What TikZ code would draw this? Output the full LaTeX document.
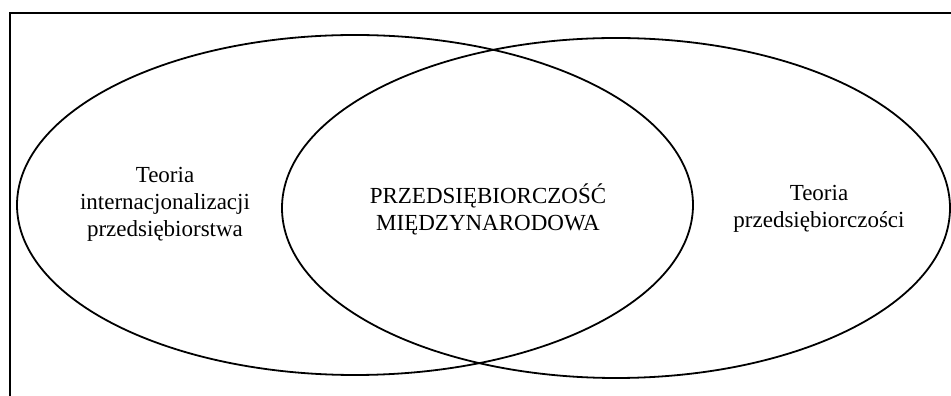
\documentclass[tikz,border=0pt]{standalone}
\usepackage{fontspec}
\setmainfont{Liberation Serif}
\usepackage{tikz}

\begin{document}
\begin{tikzpicture}[
  x=1pt, y=1pt,
  label text/.style={align=center, font=\fontsize{23}{27}\selectfont, inner sep=0pt}
]
% ---- Layout note ----
% Units are image pixels, origin at the lower left corner of the picture.
\useasboundingbox (0,0) rectangle (951,396);
\clip (0,0) rectangle (951,396);

% ---- Frame (only the top and left edges fall inside the picture) ----
\draw[line width=2.2pt] (10,-20) rectangle (980,383);

% ---- Two overlapping ellipses ----
\draw[line width=1.8pt] (355,191) ellipse [x radius=338, y radius=170];
\draw[line width=1.8pt] (616,188) ellipse [x radius=334, y radius=170];

% ---- Labels ----
\node[label text] (leftTheory) at (165,192) {Teoria\\internacjonalizacji\\przedsiębiorstwa};
\node[label text] (common) at (488,187) {PRZEDSIĘBIORCZOŚĆ\\MIĘDZYNARODOWA};
\node[label text] (rightTheory) at (819,187) {Teoria\\przedsiębiorczości};

\end{tikzpicture}
\end{document}
